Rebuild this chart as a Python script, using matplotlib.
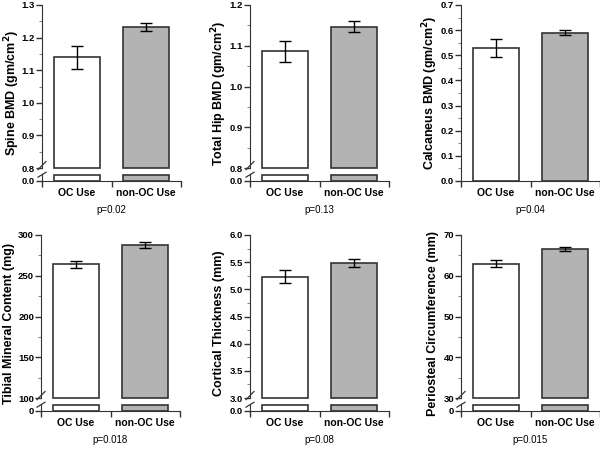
import matplotlib
matplotlib.use("Agg")
import matplotlib.pyplot as plt
from matplotlib.ticker import MultipleLocator, FormatStrFormatter

plt.rcParams["font.family"] = ["Liberation Sans", "DejaVu Sans"]

groups = ["OC Use", "non-OC Use"]

spine_bmd = [1.139, 1.233]
spine_err = [0.036, 0.012]
hip_bmd = [1.086, 1.147]
hip_err = [0.026, 0.013]
calc_bmd = [0.530, 0.590]
calc_err = [0.036, 0.011]
tibial_mc = [264.0, 288.0]
tibial_err = [4.5, 3.5]
cort_thick = [5.23, 5.49]
cort_err = [0.12, 0.07]
peri_circ = [63.0, 66.6]
peri_err = [0.8, 0.5]

p_values = ["p=0.02", "p=0.13", "p=0.04", "p=0.018", "p=0.08", "p=0.015"]

W, H = 600, 449
EDGE = "#333333"
COLORS = ["white", "#b3b3b3"]


def fbox(left, top, width, height):
    return [left / W, 1 - (top + height) / H, width / W, height / H]


def style_axis(ax):
    for side in ["top", "right"]:
        ax.spines[side].set_visible(False)
    ax.spines["left"].set_color(EDGE)
    ax.spines["bottom"].set_color(EDGE)
    ax.tick_params(axis="y", which="major", length=4, width=1, color=EDGE,
                   labelsize=6.8, pad=1)
    ax.tick_params(axis="y", which="minor", length=2, width=0.8, color="#888888")
    for lab in ax.get_yticklabels():
        lab.set_fontweight("bold")


def draw_bars(ax, values, errs, base):
    heights = [v - base for v in values]
    ax.bar([0.5, 1.5], heights, width=0.66, bottom=base, color=COLORS,
           edgecolor=EDGE, linewidth=1.2, clip_on=False, zorder=2)
    ax.errorbar([0.5, 1.5], values, yerr=errs, fmt="none", ecolor="black",
                elinewidth=1, capsize=4.5, capthick=1, zorder=3)


def set_xaxis(ax):
    ax.set_xlim(0, 2)
    ax.set_xticks([0, 1, 2])
    ax.set_xticklabels([])
    ax.set_xticks([0.5, 1.5], minor=True)
    ax.set_xticklabels(groups, minor=True, fontsize=7.5, fontweight="bold")
    ax.tick_params(axis="x", which="major", length=4, width=1, color=EDGE)
    ax.tick_params(axis="x", which="minor", length=0, pad=5)


def panel(fig, left, top, base_y, values, errs, ylabel, ylab_x, pval,
          ylim, major, minor, lower_label=None, width=139):
    fmt = "%.1f" if major < 1 else "%d"
    if lower_label is None:
        ax = fig.add_axes(fbox(left, top, width, base_y - top))
        draw_bars(ax, values, errs, 0)
        ax.set_ylim(*ylim)
        ax.yaxis.set_major_locator(MultipleLocator(major))
        ax.yaxis.set_minor_locator(MultipleLocator(minor))
        ax.yaxis.set_major_formatter(FormatStrFormatter(fmt))
        set_xaxis(ax)
        style_axis(ax)
    else:
        upper_bottom = base_y - 13
        ax = fig.add_axes(fbox(left, top, width, upper_bottom - top))
        draw_bars(ax, values, errs, ylim[0])
        ax.set_ylim(*ylim)
        ax.yaxis.set_major_locator(MultipleLocator(major))
        ax.yaxis.set_minor_locator(MultipleLocator(minor))
        ax.yaxis.set_major_formatter(FormatStrFormatter(fmt))
        ax.spines["bottom"].set_visible(False)
        ax.set_xlim(0, 2)
        ax.set_xticks([])
        style_axis(ax)

        low = fig.add_axes(fbox(left, base_y - 7, width, 7))
        low.bar([0.5, 1.5], [1, 1], width=0.66, color=COLORS, edgecolor=EDGE,
                linewidth=1.2, zorder=2)
        low.set_ylim(0, 1.12)
        low.set_yticks([0])
        low.set_yticklabels([lower_label])
        set_xaxis(low)
        style_axis(low)

        # break marks on the left spine
        kw = dict(color=EDGE, linewidth=0.9, clip_on=False)
        ax.plot([-4 / width, 4 / width], [-0.01, 0.04], transform=ax.transAxes, **kw)
        low.plot([-4 / width, 4 / width], [0.55, 1.25], transform=low.transAxes, **kw)

    fig.text(ylab_x / W, 1 - ((top + base_y) / 2) / H, ylabel, rotation=90,
             ha="center", va="center", fontsize=9, fontweight="bold")
    fig.text((left + width / 2) / W, 1 - (base_y + 29) / H, pval,
             ha="center", va="center", fontsize=7)


def main():
    fig = plt.figure(figsize=(6.0, 4.49), dpi=100)

    panel(fig, 42, 5, 181, spine_bmd, spine_err, "Spine BMD (gm/cm$^\\mathbf{2}$)",
          12, p_values[0], (0.8, 1.3), 0.1, 0.05, lower_label="0.0")
    panel(fig, 250, 5, 181, hip_bmd, hip_err, "Total Hip BMD (gm/cm$^\\mathbf{2}$)",
          219, p_values[1], (0.8, 1.2), 0.1, 0.05, lower_label="0.0")
    panel(fig, 461, 5, 181, calc_bmd, calc_err, "Calcaneus BMD (gm/cm$^\\mathbf{2}$)",
          430, p_values[2], (0.0, 0.7), 0.1, 0.05)
    panel(fig, 41, 235, 411, tibial_mc, tibial_err, "Tibial Mineral Content (mg)",
          9, p_values[3], (100, 300), 50, 25, lower_label="0")
    panel(fig, 250, 235, 411, cort_thick, cort_err, "Cortical Thickness (mm)",
          219, p_values[4], (3.0, 6.0), 0.5, 0.25, lower_label="0.0")
    panel(fig, 461, 235, 411, peri_circ, peri_err, "Periosteal Circumference (mm)",
          433, p_values[5], (30, 70), 10, 5, lower_label="0")

    fig.savefig("out.png", dpi=100)
    plt.close(fig)


if __name__ == "__main__":
    main()
